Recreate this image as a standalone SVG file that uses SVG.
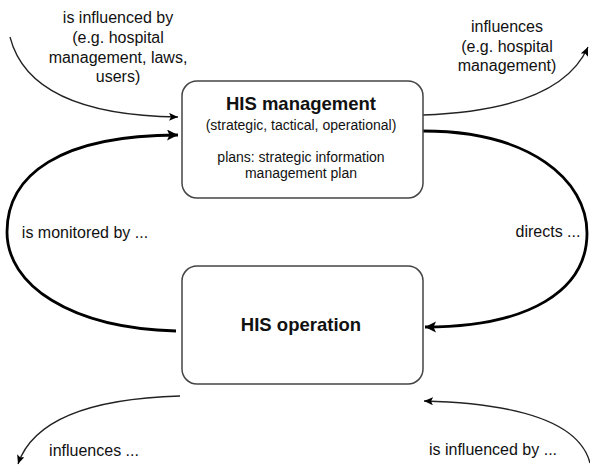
<svg xmlns="http://www.w3.org/2000/svg" width="590" height="465" viewBox="0 0 590 465">
<defs>
<style>
.box{fill:#fff;stroke:#444;stroke-width:1.5}
.t{font-family:"Liberation Sans",Arial,sans-serif;fill:#111;text-anchor:middle}
.lbl{font-size:16px}
.sub{font-size:14px}
.title{font-size:18.5px;font-weight:bold}
.thin{fill:none;stroke:#222;stroke-width:1.3}
.thick{fill:none;stroke:#000;stroke-width:2.8}
</style>
<marker id="ah" markerUnits="userSpaceOnUse" markerWidth="10" markerHeight="10" refX="9" refY="4" orient="auto">
<path d="M0,0 L9,4 L0,8 L2,4 Z" fill="#000"/>
</marker>
<marker id="ahb" markerUnits="userSpaceOnUse" markerWidth="12" markerHeight="12" refX="11" refY="5.5" orient="auto">
<path d="M0,0 L11,5.5 L0,11 L2.5,5.5 Z" fill="#000"/>
</marker>
</defs>
<g id="connectors">
<path class="thin" d="M10,37 Q30,115 178,117" marker-end="url(#ah)"/>
<path class="thick" d="M176,331 C70,328 7,285 7,232 C7,175 60,135 178,135" marker-end="url(#ahb)"/>
<path class="thin" d="M423,115 Q560,110 588,47" marker-end="url(#ah)"/>
<path class="thick" d="M423,131 C530,131 587,180 587,233 C587,290 530,327 425,327" marker-end="url(#ahb)"/>
<path class="thin" d="M180,396 Q40,400 18,464" marker-end="url(#ah)"/>
<path class="thin" d="M590,463 Q575,405 424,401" marker-end="url(#ah)"/>
<text class="t lbl" x="118" y="23">is influenced by</text>
<text class="t lbl" x="118" y="43">(e.g. hospital</text>
<text class="t lbl" x="118" y="63">management, laws,</text>
<text class="t lbl" x="118" y="82">users)</text>
<text class="t lbl" x="507" y="32">influences</text>
<text class="t lbl" x="507" y="52">(e.g. hospital</text>
<text class="t lbl" x="507" y="71">management)</text>
<text class="t lbl" x="85" y="238">is monitored by ...</text>
<text class="t lbl" x="548" y="237">directs ...</text>
<text class="t lbl" x="94" y="456">influences ...</text>
<text class="t lbl" x="493" y="455">is influenced by ...</text>
</g>
<g id="his-management">
<rect class="box" x="182" y="81" width="241" height="117" rx="15"/>
<text class="t title" x="301" y="110">HIS management</text>
<text class="t sub" x="301" y="130">(strategic, tactical, operational)</text>
<text class="t sub" x="301" y="162">plans: strategic information</text>
<text class="t sub" x="301" y="178">management plan</text>
</g>
<g id="his-operation">
<rect class="box" x="182" y="266" width="241" height="118" rx="15"/>
<text class="t title" x="301" y="331">HIS operation</text>
</g>
</svg>
